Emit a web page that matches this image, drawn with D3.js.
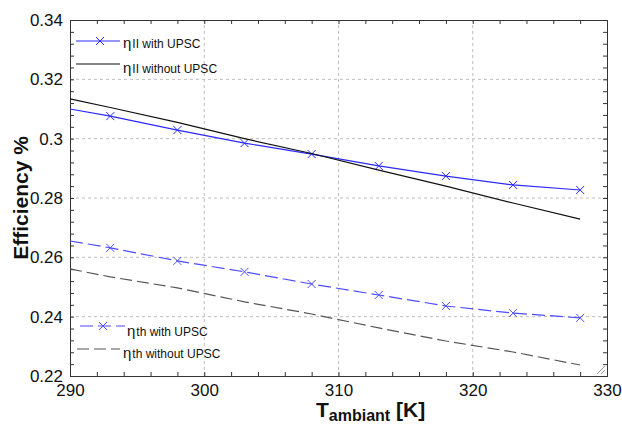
<!DOCTYPE html>
<html>
<head>
<meta charset="utf-8">
<script src="https://cdn.jsdelivr.net/npm/d3@7"></script>
<style>
  body { margin: 0; background: #fff; }
  svg { display: block; font-family: Arial, "Liberation Sans", sans-serif; }
</style>
</head>
<body>
<script>
// ambient temperature [K]
var temps = [290, 293, 298, 303, 308, 313, 318, 323, 328];
var markerTemps = [293, 298, 303, 308, 313, 318, 323, 328];

var etaIIWith    = [0.3100, 0.3076, 0.3029, 0.2985, 0.2948, 0.2908, 0.2874, 0.2844, 0.2827];
var etaIIWithout = [0.3134, 0.3105, 0.3055, 0.3000, 0.2950, 0.2894, 0.2840, 0.2783, 0.2729];
var etaThWith    = [0.2655, 0.2632, 0.2588, 0.2551, 0.2510, 0.2473, 0.2436, 0.2412, 0.2396];
var etaThWithout = [0.2561, 0.2534, 0.2497, 0.2450, 0.2409, 0.2362, 0.2318, 0.2281, 0.2237];

var xTicks = [290, 300, 310, 320, 330];
var yTicks = [0.22, 0.24, 0.26, 0.28, 0.30, 0.32, 0.34];

var width = 622, height = 424;
var margin = {left: 70, right: 15, top: 20, bottom: 48};

var x = d3.scaleLinear().domain([290, 330]).range([margin.left, width - margin.right]);
var y = d3.scaleLinear().domain([0.22, 0.34]).range([height - margin.bottom, margin.top]);

var svg = d3.select("body").append("svg")
    .attr("width", width)
    .attr("height", height);

var x0 = x.range()[0], x1 = x.range()[1];
var y0 = y.range()[0], y1 = y.range()[1];

// grid (dashed, major ticks only)
svg.append("g").selectAll("line.gx")
    .data(xTicks.slice(1, -1)).enter().append("line")
    .attr("x1", function(d){ return x(d); }).attr("x2", function(d){ return x(d); })
    .attr("y1", y0).attr("y2", y1)
    .attr("stroke", "#bdbdbd").attr("stroke-dasharray", "3,3");
svg.append("g").selectAll("line.gy")
    .data(yTicks.slice(1, -1)).enter().append("line")
    .attr("y1", function(d){ return y(d); }).attr("y2", function(d){ return y(d); })
    .attr("x1", x0).attr("x2", x1)
    .attr("stroke", "#bdbdbd").attr("stroke-dasharray", "3,3");

// minor ticks on all four sides
var xMinor = d3.range(290, 330.01, 2);
var yMinor = d3.range(0, 31).map(function(i){ return 0.22 + i * 0.004; });

function tickStyle(g) {
  g.select(".domain").remove();
  g.selectAll(".tick line").attr("stroke", "#333");
  g.selectAll(".tick text").remove();
}
svg.append("g").attr("transform", "translate(0," + y0 + ")")
    .call(d3.axisBottom(x).tickValues(xMinor).tickSize(-4)).call(tickStyle);
svg.append("g").attr("transform", "translate(0," + y1 + ")")
    .call(d3.axisTop(x).tickValues(xMinor).tickSize(-4)).call(tickStyle);
svg.append("g").attr("transform", "translate(" + x0 + ",0)")
    .call(d3.axisLeft(y).tickValues(yMinor).tickSize(-4)).call(tickStyle);
svg.append("g").attr("transform", "translate(" + x1 + ",0)")
    .call(d3.axisRight(y).tickValues(yMinor).tickSize(-4)).call(tickStyle);

// tick labels
function labelStyle(g) {
  g.select(".domain").remove();
  g.selectAll(".tick line").remove();
  g.selectAll(".tick text").attr("fill", "#111").style("font-size", "17px")
    .style("font-family", "Arial, 'Liberation Sans', sans-serif");
}
svg.append("g").attr("transform", "translate(0," + y0 + ")")
    .call(d3.axisBottom(x).tickValues(xTicks).tickSize(0).tickPadding(8)
      .tickFormat(d3.format("d"))).call(labelStyle);
svg.append("g").attr("transform", "translate(" + x0 + ",0)")
    .call(d3.axisLeft(y).tickValues(yTicks).tickSize(0).tickPadding(7)
      .tickFormat(function(d){ return String(+d.toFixed(2)); })).call(labelStyle);

// frame
svg.append("rect")
    .attr("x", x0 + 0.5).attr("y", y1 + 0.5)
    .attr("width", x1 - x0).attr("height", y0 - y1)
    .attr("fill", "none").attr("stroke", "#333");

// resize grip in the corner
svg.append("g").selectAll("line")
    .data([0, 4, 8]).enter().append("line")
    .attr("x1", function(d){ return x1 - 2 - d; }).attr("y1", y0 - 2)
    .attr("x2", x1 - 2).attr("y2", function(d){ return y0 - 2 - d; })
    .attr("stroke", "#999");

// series
var series = [
  {values: etaIIWith,    color: "#2a2aff", dash: null,   marks: true},
  {values: etaIIWithout, color: "#111",    dash: null,   marks: false},
  {values: etaThWith,    color: "#4d4dff", dash: "13,5", marks: true},
  {values: etaThWithout, color: "#555",    dash: "12,5", marks: false}
];

var line = d3.line()
    .x(function(d){ return x(d[0]); })
    .y(function(d){ return y(d[1]); });

function cross(g, cx, cy, color) {
  var r = 4;
  g.append("path")
    .attr("d", "M" + (cx - r) + "," + (cy - r) + "L" + (cx + r) + "," + (cy + r) +
               "M" + (cx - r) + "," + (cy + r) + "L" + (cx + r) + "," + (cy - r))
    .attr("stroke", color).attr("stroke-width", 1).attr("fill", "none");
}

series.forEach(function(s){
  var pts = temps.map(function(t, i){ return [t, s.values[i]]; });
  svg.append("path")
      .attr("d", line(pts))
      .attr("fill", "none")
      .attr("stroke", s.color)
      .attr("stroke-width", 1.2)
      .attr("stroke-dasharray", s.dash);
  if (s.marks) {
    var g = svg.append("g");
    pts.forEach(function(p){
      if (markerTemps.indexOf(p[0]) >= 0) cross(g, x(p[0]), y(p[1]), s.color);
    });
  }
});

// legends
var legends = [
  {s: series[0], x0: 76, x1: 120, y: 41, mx: 100, tx: 123, ty: 48, sub: "II with UPSC"},
  {s: series[1], x0: 76, x1: 120, y: 64, mx: null, tx: 123, ty: 73, sub: "II without UPSC"},
  {s: series[2], x0: 80, x1: 125, y: 326, mx: 103, tx: 127, ty: 336, sub: "th with UPSC"},
  {s: series[3], x0: 77, x1: 120, y: 349, mx: null, tx: 123, ty: 358, sub: "th without UPSC"}
];
legends.forEach(function(l){
  svg.append("line")
      .attr("x1", l.x0).attr("x2", l.x1).attr("y1", l.y).attr("y2", l.y)
      .attr("stroke", l.s.color).attr("stroke-width", 1.2)
      .attr("stroke-dasharray", l.s.dash);
  if (l.mx !== null) cross(svg, l.mx, l.y, l.s.color);
  var t = svg.append("text").attr("x", l.tx).attr("y", l.ty).attr("fill", "#111");
  t.append("tspan").style("font-size", "15px").text("\u03b7");
  t.append("tspan").style("font-size", "12px").attr("dx", 1).text(l.sub);
});

// axis titles
svg.append("text")
    .attr("transform", "translate(28," + ((y0 + y1) / 2) + ") rotate(-90)")
    .attr("text-anchor", "middle")
    .style("font-size", "21px").style("font-weight", "bold").attr("fill", "#111")
    .text("Efficiency %");

var xt = svg.append("text").attr("x", 316).attr("y", 417)
    .style("font-weight", "bold").attr("fill", "#111");
xt.append("tspan").style("font-size", "21px").text("T");
xt.append("tspan").style("font-size", "16px").attr("dy", 4).text("ambiant");
xt.append("tspan").style("font-size", "21px").attr("dy", -4).text(" [K]");
</script>
</body>
</html>
